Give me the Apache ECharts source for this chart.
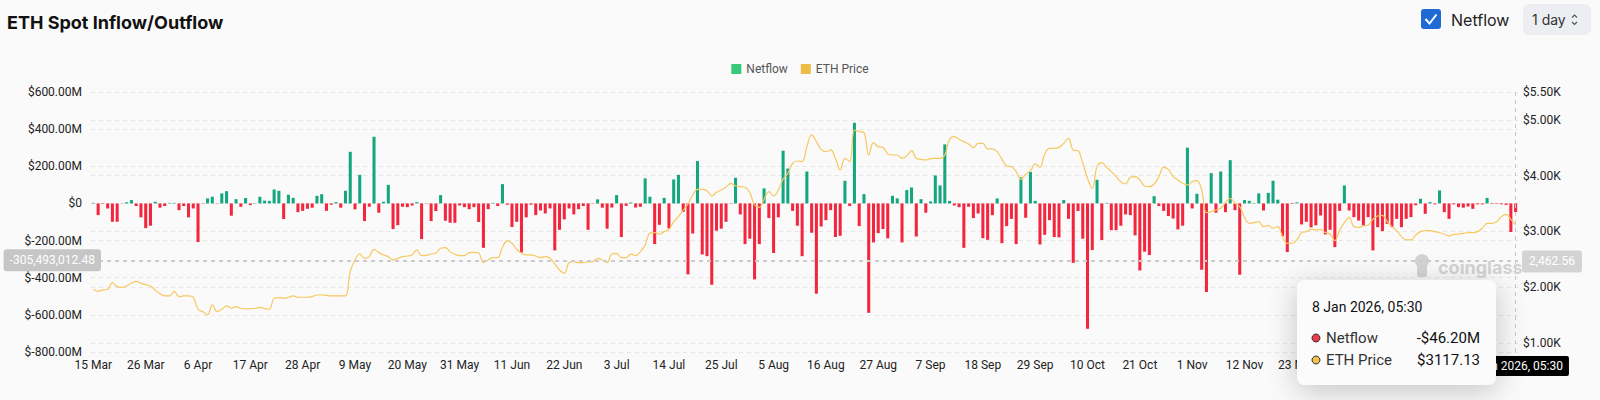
<!DOCTYPE html>
<html><head><meta charset="utf-8">
<script src="https://cdn.jsdelivr.net/npm/echarts@6/dist/echarts.min.js"></script>
<style>html,body{margin:0;padding:0;background:#fafafa;}#c{width:1600px;height:400px;}</style>
</head><body><div id="c"></div>
<script>
// ---------- data ----------
const startDay = [2025, 2, 15]; // 15 Mar 2025 (month is 0-based)
const monthNames = ['Jan','Feb','Mar','Apr','May','Jun','Jul','Aug','Sep','Oct','Nov','Dec'];

// Daily ETH spot netflow, millions USD
const netflow = [
  3,-63,-3,-27,-99,-99,-2,7,18,-14,
  -75,-133,-120,9,-23,-14,3,3,-36,-14,
  -75,-27,-208,-2,27,36,-2,54,66,-66,
  23,-18,29,-9,2,36,15,14,75,68,
  -84,47,30,-47,-40,-29,-23,41,50,-40,
  -7,7,-23,68,278,-32,154,-95,-18,359,
  -50,9,100,-138,-117,-18,-20,-11,7,-192,
  -2,-95,-41,45,-93,-104,-104,-11,-20,-31,
  -20,-100,-239,-31,3,-14,104,-7,-127,-99,
  -264,-75,-7,-63,-38,-54,-27,-253,-142,-86,
  -27,-59,-31,-14,-142,-2,22,-23,-136,-22,
  45,-181,-13,5,-22,-18,135,36,-219,-115,
  30,-135,129,154,-45,-382,-162,228,-275,-284,
  -438,-147,-136,-99,-2,138,-59,-219,-190,-409,
  -219,81,-79,-267,-75,284,188,-40,-120,-284,
  172,-158,-486,-124,-90,-36,-181,-174,122,-14,
  434,-122,50,-589,-210,-160,-138,-188,41,27,
  -210,72,86,-178,23,-50,11,151,97,318,
  14,-11,-20,-239,-18,-79,-54,-187,-196,-63,
  27,-214,-122,-83,-219,140,-77,170,14,-221,
  -169,-90,-181,-183,18,-83,-320,-41,-190,-675,
  -251,127,-197,3,-144,-144,-120,-59,-63,-172,
  -361,-260,-278,39,-14,-40,-68,-81,-140,-120,
  300,-27,52,-357,-477,163,-50,172,-47,233,
  -36,-384,18,14,2,54,-38,57,122,20,
  -176,-262,-3,6,-113,-99,-129,-118,-65,-167,
  -142,-235,-40,97,-38,-74,-92,-118,-74,-253,
  -128,-149,-110,-128,-83,-128,-83,-74,-10,25,
  -56,7,-5,70,-47,-83,-5,-20,-23,-16,
  -29,-5,-5,30,-3,-3,-5,-8,-154,-46.2
];

// Daily ETH price, USD
const ethPrice = [
  1964,1928,1952,1964,2083,2012,2000,2024,2071,2107,
  2071,2048,2024,1952,1886,1845,1845,1928,1833,1845,
  1845,1821,1606,1564,1504,1683,1564,1606,1665,1624,
  1653,1624,1612,1618,1624,1640,1618,1606,1803,1815,
  1803,1821,1845,1821,1821,1821,1833,1862,1862,1856,
  1845,1845,1845,1845,2280,2490,2597,2519,2549,2681,
  2621,2579,2549,2490,2519,2549,2561,2579,2669,2567,
  2573,2597,2609,2699,2711,2639,2591,2567,2567,2621,
  2627,2615,2442,2490,2531,2531,2717,2830,2788,2681,
  2609,2579,2579,2561,2531,2549,2519,2418,2310,2251,
  2442,2460,2442,2442,2454,2460,2519,2490,2442,2597,
  2609,2531,2531,2597,2567,2639,2758,2967,2979,2955,
  2997,3039,3176,3266,3385,3493,3654,3756,3756,3732,
  3636,3702,3744,3792,3863,3816,3804,3792,3696,3475,
  3433,3577,3714,3636,3744,3935,4043,4222,4263,4252,
  4520,4730,4610,4473,4431,4461,4311,4102,4311,4252,
  4819,4789,4771,4371,4592,4520,4508,4389,4371,4371,
  4311,4353,4449,4311,4293,4281,4305,4311,4311,4371,
  4652,4700,4652,4610,4568,4502,4580,4580,4479,4479,
  4431,4293,4174,4162,4072,3935,4025,4090,4210,4150,
  4389,4491,4491,4508,4580,4670,4461,4449,4222,3953,
  3774,4162,4234,4150,4072,3983,3893,3851,3971,3983,
  3923,3816,3804,3851,3983,4150,4114,3983,3923,3863,
  3834,3893,3911,3744,3338,3356,3385,3415,3517,3594,
  3505,3445,3254,3147,3159,3176,3087,3111,3057,3087,
  2908,2788,2788,2848,2979,2997,3039,3027,3039,2979,
  2955,2836,3027,3158,3254,3087,3075,3099,3117,3218,
  3278,3290,3176,3087,3015,2908,2848,2848,2937,2997,
  3015,3015,2997,2979,2955,2920,2949,2955,2967,2979,
  2979,2997,3057,3147,3147,3176,3266,3308,3218,3117.13
];

// Crosshair / tooltip state shown in the reference
const pointerTime = '8 Jan 2026, 05:30';
const pointerNetflow = -305.49301248; // millions
const pointerPrice = 2462.56;

// Axis ranges / date-label spacing
const flowAxis = {min: -800, max: 600, interval: 200};
const priceAxis = {min: 840, max: 5500};
const labelEvery = 11;
const lastVisibleLabel = 253; // later labels sit under the tooltip in the reference

// ---------- build ----------
const categories = [];
for (let i = 0; i < netflow.length; i++) {
  const d = new Date(Date.UTC(startDay[0], startDay[1], startDay[2] + i));
  categories.push(d.getUTCDate() + ' ' + monthNames[d.getUTCMonth()]);
}
const GREEN = '#14a67f', RED = '#f3263e';
const LAST = netflow.length - 1;
const fmtFlow = v => v === 0 ? '$0' : '$' + v.toFixed(2) + 'M';
const fmtNum = v => v.toLocaleString('en-US', {minimumFractionDigits: 2, maximumFractionDigits: 2});
const lastFlow = netflow[LAST];
const lastPrice = ethPrice[LAST];

const chart = echarts.init(document.getElementById('c'), null, {renderer: 'svg', width: 1600, height: 400});
const FONT = 'Roboto, "Noto Sans", sans-serif';
const TZ = 500; // tooltip layer

chart.setOption({
  backgroundColor: '#fafafa',
  animation: false,
  textStyle: {fontFamily: FONT},
  title: {
    text: 'ETH Spot Inflow/Outflow', left: 2, top: 8,
    textStyle: {fontFamily: 'Inter, sans-serif', fontSize: 18, fontWeight: 700, color: '#111'}
  },
  legend: {
    top: 58, left: 'center', itemWidth: 10, itemHeight: 10, itemGap: 13,
    textStyle: {fontSize: 12, color: '#555', fontFamily: FONT},
    data: [
      {name: 'Netflow', icon: 'rect', itemStyle: {color: '#36c97a'}},
      {name: 'ETH Price', icon: 'rect', itemStyle: {color: '#efbc47'}}
    ]
  },
  grid: {left: 91, right: 82, top: 92, bottom: 48},
  xAxis: {
    type: 'category', data: categories,
    axisLine: {show: false}, axisTick: {show: false},
    axisLabel: {interval: i => i % labelEvery === 0 && i <= lastVisibleLabel,
                fontSize: 12, color: '#222', margin: 7},
    axisPointer: {
      show: true, status: 'show', value: LAST, triggerTooltip: false, type: 'line',
      lineStyle: {type: [4, 4], color: '#c8c8c8', width: 1},
      label: {show: true, formatter: () => pointerTime, backgroundColor: '#000', color: '#fff',
              fontSize: 12, padding: [4, 6], borderRadius: 2, margin: 4}
    }
  },
  yAxis: [
    {
      type: 'value', min: flowAxis.min, max: flowAxis.max, interval: flowAxis.interval,
      axisLine: {show: false}, axisTick: {show: false},
      axisLabel: {formatter: fmtFlow, fontSize: 12, color: '#222', margin: 9},
      splitLine: {lineStyle: {type: [4, 4], color: '#e6e6e6'}},
      axisPointer: {
        show: true, status: 'show', value: pointerNetflow, triggerTooltip: false, type: 'line',
        lineStyle: {type: [4, 4], color: '#cccccc', width: 1},
        label: {show: true, formatter: p => fmtNum(p.value * 1e6), backgroundColor: '#c6c6c6',
                color: '#fff', fontSize: 12, padding: [5, 6], borderRadius: 3, margin: -10}
      }
    },
    {
      type: 'value', min: priceAxis.min, max: priceAxis.max, position: 'right',
      axisLine: {show: false}, axisTick: {show: false},
      axisLabel: {formatter: v => '$' + (v / 1000).toFixed(2) + 'K', fontSize: 12, color: '#222',
                  margin: 5, showMinLabel: false},
      splitLine: {lineStyle: {type: [4, 4], color: '#e6e6e6'}},
      axisPointer: {
        show: true, status: 'show', value: pointerPrice, triggerTooltip: false, type: 'line',
        lineStyle: {type: [4, 4], color: '#cccccc', width: 1},
        label: {show: true, formatter: p => fmtNum(p.value), backgroundColor: '#d3d3d3',
                color: '#fff', fontSize: 12, padding: [5, 7], borderRadius: 3, margin: 4}
      }
    }
  ],
  series: [
    {
      name: 'Netflow', type: 'bar', yAxisIndex: 0, barCategoryGap: '36%',
      itemStyle: {color: '#36c97a'},
      data: netflow.map(v => ({value: v, itemStyle: {color: v >= 0 ? GREEN : RED}}))
    },
    {
      name: 'ETH Price', type: 'line', yAxisIndex: 1, smooth: 0.4,
      showSymbol: true,
      symbol: (v, p) => p.dataIndex === LAST ? 'circle' : 'none',
      symbolSize: 5,
      itemStyle: {color: '#efbc47'},
      lineStyle: {color: '#f7c85f', width: 1.2},
      data: ethPrice, z: 5
    }
  ],
  graphic: [
    // header controls
    {type: 'rect', shape: {x: 1421, y: 9, width: 20, height: 20, r: 3}, style: {fill: '#1e6bd6'}},
    {type: 'polyline', shape: {points: [[1425.5, 19], [1429.5, 23.5], [1436.5, 14.5]]},
     style: {stroke: '#fff', lineWidth: 2, fill: null}},
    {type: 'text', x: 1451, y: 19.5, style: {text: 'Netflow', fontSize: 16, fontFamily: 'Inter, sans-serif',
      fill: '#222', verticalAlign: 'middle'}},
    {type: 'rect', shape: {x: 1523, y: 4, width: 68, height: 31, r: 6}, style: {fill: '#eceef1'}},
    {type: 'text', x: 1532, y: 19.5, style: {text: '1 day', fontSize: 14, fontFamily: 'Inter, sans-serif',
      fill: '#333', verticalAlign: 'middle'}},
    {type: 'polyline', shape: {points: [[1572, 17.5], [1574.5, 15], [1577, 17.5]]},
     style: {stroke: '#555', lineWidth: 1.2, fill: null}},
    {type: 'polyline', shape: {points: [[1572, 22], [1574.5, 24.5], [1577, 22]]},
     style: {stroke: '#555', lineWidth: 1.2, fill: null}},
    // watermark
    {type: 'circle', z: 1, shape: {cx: 1422, cy: 261, r: 7}, style: {fill: '#d3d3d3'}},
    {type: 'rect', z: 1, shape: {x: 1417, y: 265, width: 10, height: 12, r: 2}, style: {fill: '#d3d3d3'}},
    {type: 'text', z: 1, x: 1438, y: 267, style: {text: 'coinglass', fontSize: 18, fontWeight: 700,
      fontFamily: 'Inter, sans-serif', fill: '#d3d3d3', verticalAlign: 'middle'}},
    // tooltip
    {type: 'rect', z: TZ, shape: {x: 1297, y: 280, width: 199, height: 105, r: 8},
     style: {fill: '#fbfbfc', shadowBlur: 30, shadowColor: 'rgba(0,0,0,0.22)', shadowOffsetY: 6}},
    {type: 'text', z: TZ + 1, x: 1312, y: 307, style: {text: pointerTime, fontSize: 14, fontFamily: FONT,
      fill: '#111', verticalAlign: 'middle'}},
    {type: 'circle', z: TZ + 1, shape: {cx: 1316, cy: 338, r: 4}, style: {fill: '#ee3a4b', stroke: '#333', lineWidth: 1}},
    {type: 'text', z: TZ + 1, x: 1326, y: 338, style: {text: 'Netflow', fontSize: 15, fontFamily: FONT,
      fill: '#333', verticalAlign: 'middle'}},
    {type: 'text', z: TZ + 1, x: 1480, y: 338, style: {text: (lastFlow < 0 ? '-$' : '$') + Math.abs(lastFlow).toFixed(2) + 'M',
      fontSize: 15, fontFamily: FONT, fill: '#111', align: 'right', verticalAlign: 'middle'}},
    {type: 'circle', z: TZ + 1, shape: {cx: 1316, cy: 360, r: 4}, style: {fill: '#f0c24a', stroke: '#333', lineWidth: 1}},
    {type: 'text', z: TZ + 1, x: 1326, y: 360, style: {text: 'ETH Price', fontSize: 15, fontFamily: FONT,
      fill: '#333', verticalAlign: 'middle'}},
    {type: 'text', z: TZ + 1, x: 1480, y: 360, style: {text: '$' + lastPrice.toFixed(2),
      fontSize: 15, fontFamily: FONT, fill: '#111', align: 'right', verticalAlign: 'middle'}}
  ]
});
</script>
</body></html>
